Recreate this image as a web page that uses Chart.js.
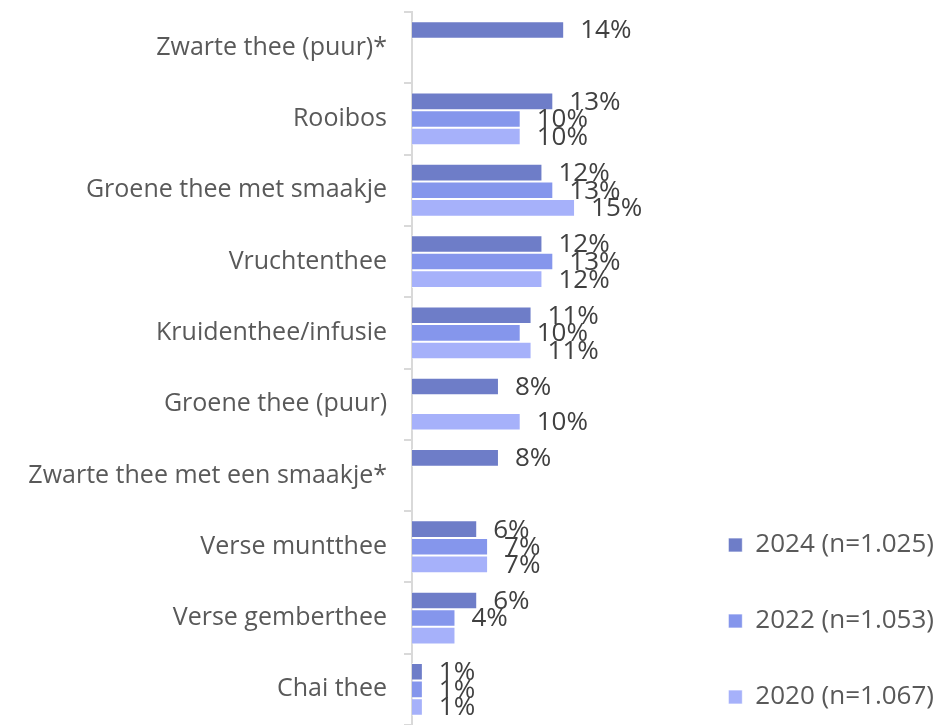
<!DOCTYPE html>
<html>
<head>
<meta charset="utf-8">
<script src="https://cdn.jsdelivr.net/npm/chart.js@4.4.1/dist/chart.umd.min.js"></script>
<style>
  html, body { margin: 0; padding: 0; background: #fff; }
  #wrap { width: 938px; height: 725px; position: relative; }
</style>
</head>
<body>
<div id="wrap"><canvas id="teaChart"></canvas></div>
<script>
// categories (top to bottom)
const categories = [
    'Zwarte thee (puur)*',
    'Rooibos',
    'Groene thee met smaakje',
    'Vruchtenthee',
    'Kruidenthee/infusie',
    'Groene thee (puur)',
    'Zwarte thee met een smaakje*',
    'Verse muntthee',
    'Verse gemberthee',
    'Chai thee'
];

// series values in %
const values2024 = [14, 13, 12, 12, 11, 8, 8, 6, 6, 1];
const values2022 = [null, 10, 13, 13, 10, null, null, 7, 4, 1];
const values2020 = [null, 10, 15, 12, 11, 10, null, 7, 4, 1];

const seriesNames = ['2024 (n=1.025)', '2022 (n=1.053)', '2020 (n=1.067)'];
const seriesColors = ['#6e7dc8', '#8596ec', '#a6b1fa'];

// labels not shown in the original: [datasetIndex, categoryIndex]
const hiddenLabels = [[2, 8]];

const textColor = '#595959';
const fontFamily = '"Open Sans", "Noto Sans", sans-serif';

// Draw value labels next to bar ends
const valueLabels = {
    id: 'valueLabels',
    afterLayout(chart) {
        // nudge the legend block down and right
        const lg = chart.legend;
        if (lg) {
            lg.top += 32;
            lg.bottom += 32;
            lg.left += 6;
            lg.right += 6;
        }
    },
    afterDatasetsDraw(chart) {
        const ctx = chart.ctx;
        ctx.save();
        ctx.font = '26px ' + fontFamily;
        ctx.fillStyle = '#404040';
        ctx.textBaseline = 'middle';
        ctx.textAlign = 'left';
        chart.data.datasets.forEach((ds, di) => {
            const meta = chart.getDatasetMeta(di);
            meta.data.forEach((bar, i) => {
                const v = ds.data[i];
                if (v === null) return;
                if (hiddenLabels.some(h => h[0] === di && h[1] === i)) return;
                ctx.fillText(v + '%', bar.x + 16, bar.y + 1);
            });
        });
        ctx.restore();
    }
};

const ctx = document.getElementById('teaChart').getContext('2d');
new Chart(ctx, {
    type: 'bar',
    data: {
        labels: categories,
        datasets: [values2024, values2022, values2020].map((d, i) => ({
            label: seriesNames[i],
            data: d,
            backgroundColor: seriesColors[i],
            borderColor: 'rgba(255,255,255,0.7)',
            borderWidth: 1,
            categoryPercentage: 0.74,
            barPercentage: 1.0
        }))
    },
    options: {
        indexAxis: 'y',
        responsive: true,
        maintainAspectRatio: false,
        animation: false,
        layout: { padding: { top: 12, bottom: -3, left: 0, right: 0 } },
        plugins: {
            legend: {
                position: 'right',
                align: 'end',
                maxWidth: 276,
                labels: {
                    boxWidth: 14,
                    boxHeight: 14,
                    padding: 50,
                    color: textColor,
                    font: { size: 26, family: fontFamily }
                }
            },
            tooltip: { enabled: false }
        },
        scales: {
            x: {
                display: false,
                min: 0,
                max: 23.95
            },
            y: {
                afterFit(scale) {
                    scale.width = 412;
                    scale.paddingTop = 0;
                    scale.paddingBottom = 0;
                },
                grid: {
                    offset: true,
                    drawOnChartArea: false,
                    tickLength: 8,
                    color: '#d9d9d9',
                    lineWidth: 2
                },
                border: { display: true, color: '#d9d9d9', width: 2 },
                ticks: {
                    padding: 17,
                    color: textColor,
                    font: { size: 25, family: fontFamily }
                }
            }
        }
    },
    plugins: [valueLabels]
});
</script>
</body>
</html>
